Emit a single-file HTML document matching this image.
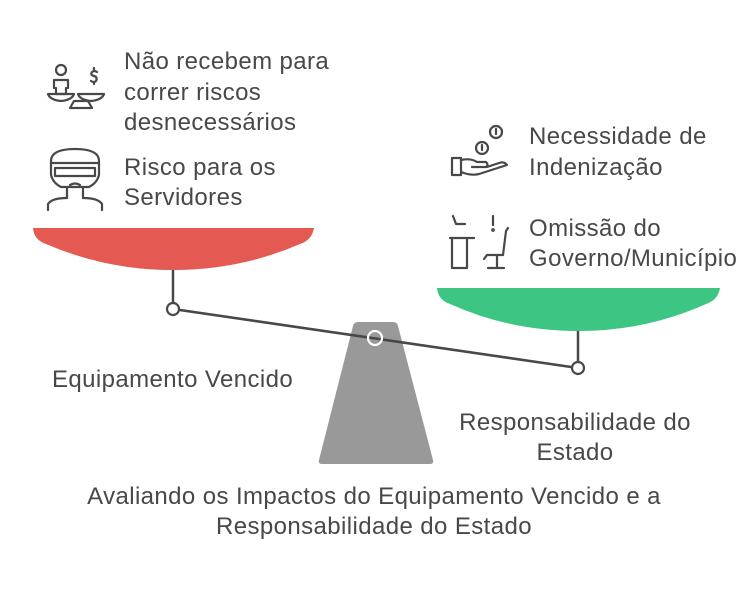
<!DOCTYPE html>
<html><head><meta charset="utf-8"><style>
body{margin:0;background:#fff}
svg{display:block}
text{font-family:"Liberation Sans",Arial,sans-serif;font-size:24px;letter-spacing:0.4px;fill:#484848}
.i{fill:none;stroke:#484848;stroke-width:2.2;stroke-linecap:round;stroke-linejoin:round}
</style></head><body>
<svg width="753" height="603" viewBox="0 0 753 603">
<path d="M33 228 L314 228 Q312 240 300 244 Q240 270 173 270 Q106 270 46 244 Q34 240 33 228Z" fill="#e55953"/>
<path d="M437 288 L720 288 Q718 300 706 304 Q646 331 578 331 Q510 331 450 304 Q438 300 437 288Z" fill="#3dc583"/>
<line x1="173" y1="270" x2="173" y2="303" stroke="#484848" stroke-width="2.5"/>
<line x1="578" y1="331" x2="578" y2="362" stroke="#484848" stroke-width="2.5"/>
<path d="M358 322 L393 322 Q397 322 398 326 L433 460 Q434 464 430 464 L322 464 Q318 464 319 460 L353 326 Q354 322 358 322Z" fill="#999"/>
<line x1="173" y1="309" x2="578" y2="368" stroke="#484848" stroke-width="2.5"/>
<circle cx="173" cy="309" r="6" fill="#fff" stroke="#484848" stroke-width="2.2"/>
<circle cx="578" cy="368" r="6" fill="#fff" stroke="#484848" stroke-width="2.2"/>
<circle cx="375" cy="338" r="7" fill="none" stroke="#fff" stroke-width="2.2"/>
<g class="i">
<circle cx="61" cy="70" r="5"/><path d="M54 88 v-8 h14 v8 M56 88 v6 h10 v-6"/>
<path d="M48 94 h26 q-2 6 -13 7 q-11 -1 -13 -7z M78 94 h26 q-2 6 -13 7 q-11 -1 -13 -7z"/>
<path d="M70 108 h22 l-4 -7 h-14z"/>
<path d="M97 72 q-3 -2 -5 0 q-2 3 2 4 q4 1 2 5 q-2 2 -5 0 M94 68 v2 M94 82 v2"/>
<path d="M51 161 q0 -12 24 -12 q24 0 24 12 v14 q-2 8 -10 12 h-28 q-8 -4 -10 -12z"/>
<path d="M51 163 h48 M55 168 h40 v8 h-40z M70 185 q5 -3 10 0 M67 188 v10 M83 188 v10"/>
<path d="M48 210 v-6 q4 -6 19 -6 M102 210 v-6 q-4 -6 -19 -6"/>
<circle cx="496" cy="132" r="6"/><path d="M496 129 v5"/>
<circle cx="482" cy="148" r="6"/><path d="M482 145 v5"/>
<path d="M452 158 h9 v17 h-9z M461 160 q10 -2 16 2 h9 q3 3 0 5 h-14 M461 172 q10 4 18 2 l28 -9 q-3 -4 -8 -2 l-12 4"/>
<path d="M453 216 l3 8 h9 M452 238 v30 h15 v-30z M450 238 h24"/>
<path d="M493 216 v9"/><circle cx="493" cy="230" r="0.8"/>
<path d="M508 228 l-2 3 l-3 24 h-16 l-3 4 M497 255 v12 M488 268 h16"/>
</g>
<text x="124" y="69">Não recebem para</text>
<text x="124" y="100">correr riscos</text>
<text x="124" y="130">desnecessários</text>
<text x="124" y="175">Risco para os</text>
<text x="124" y="205">Servidores</text>
<text x="529" y="144">Necessidade de</text>
<text x="529" y="175">Indenização</text>
<text x="529" y="236">Omissão do</text>
<text x="529" y="266">Governo/Município</text>
<text x="52" y="387">Equipamento Vencido</text>
<text x="575" y="430" text-anchor="middle">Responsabilidade do</text>
<text x="575" y="460" text-anchor="middle">Estado</text>
<text x="374" y="504" text-anchor="middle">Avaliando os Impactos do Equipamento Vencido e a</text>
<text x="374" y="534" text-anchor="middle">Responsabilidade do Estado</text>
</svg>
</body></html>
